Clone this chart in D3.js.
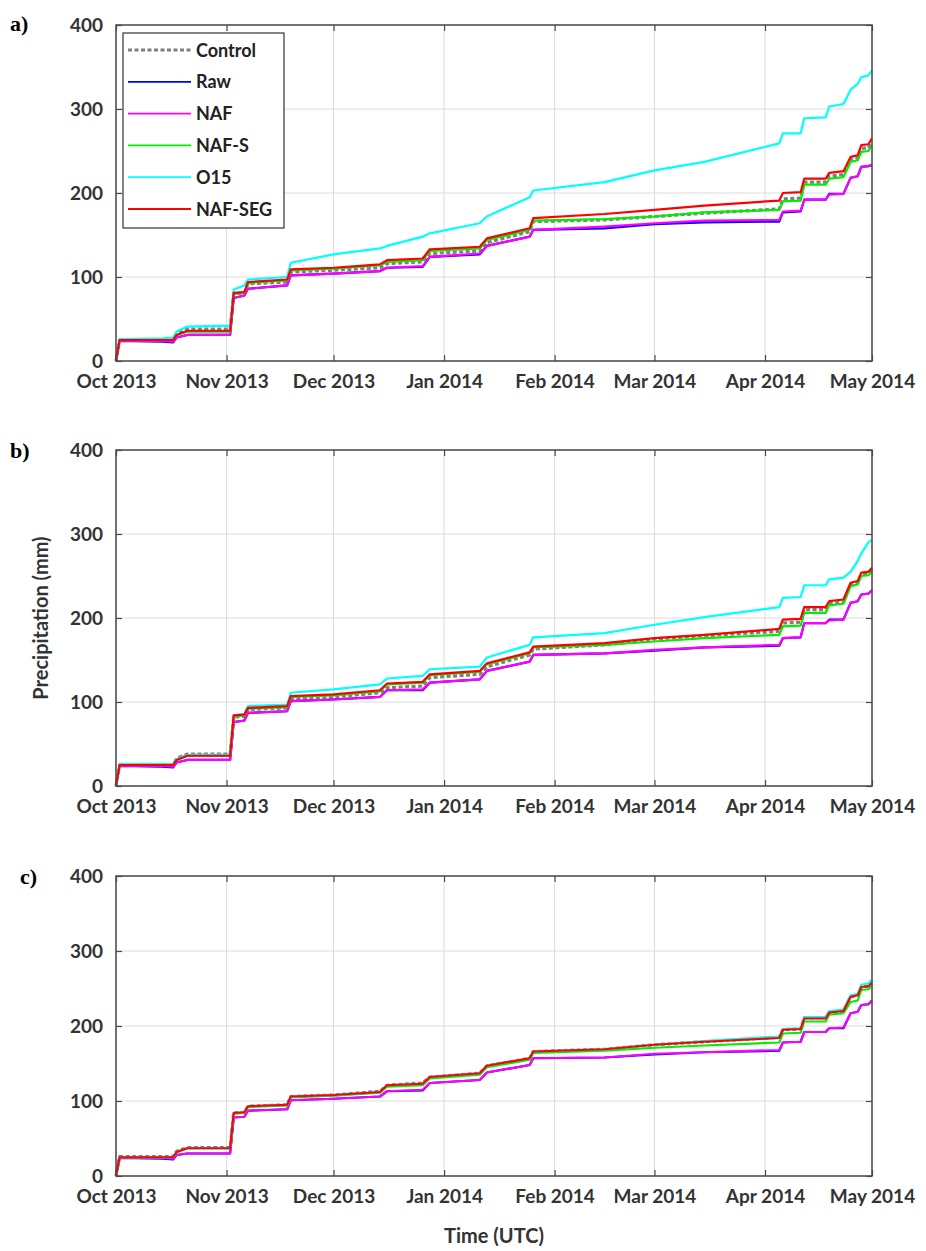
<!DOCTYPE html>
<html><head><meta charset="utf-8">
<script src="https://cdn.jsdelivr.net/npm/d3@7"></script>
<style>
html,body{margin:0;padding:0;background:#fff;}
</style></head>
<body><svg id="chart" width="926" height="1251"></svg>
<script>
// ---------- data ----------
const dates = ["2013-10-01","2013-10-02","2013-10-14","2013-10-17","2013-10-18","2013-10-21","2013-11-02","2013-11-03","2013-11-06","2013-11-07","2013-11-18","2013-11-19","2013-12-01","2013-12-14","2013-12-16","2013-12-26","2013-12-28","2014-01-11","2014-01-13","2014-01-25","2014-01-26","2014-02-15","2014-03-01","2014-03-15","2014-04-05","2014-04-06","2014-04-11","2014-04-12","2014-04-18","2014-04-19","2014-04-23","2014-04-25","2014-04-27","2014-04-28","2014-04-30","2014-05-01"];

const seriesNames = ["Control","Raw","NAF","NAF-S","O15","NAF-SEG"];
const seriesColors = ["#7f7f7f","#0000ff","#ff00ff","#00ee00","#00ffff","#ff0000"];
const xTickDates = ["2013-10-01","2013-11-01","2013-12-01","2014-01-01","2014-02-01","2014-03-01","2014-04-01","2014-05-01"];
const xTickLabels = ["Oct 2013","Nov 2013","Dec 2013","Jan 2014","Feb 2014","Mar 2014","Apr 2014","May 2014"];
const yTicks = [0,100,200,300,400];
const panelLabels = ["a)","b)","c)"];

// panel a
const aControl = [0,25,25,25,32,38,38,80,81,92,94,106,108,111,116,118,128,131,141,154,166,168,172,176,181,193,194,213,213,220,222,240,242,253,254,260];
const aRaw     = [0,24,23,22,28,31,31,75,78,86,90,102,104,107,111,112,124,127,137,148,156,158,163,165,166,177,178,192,192,199,199,218,220,231,232,233];
const aNAF     = [0,24,24,23,28,31,31,75,78,86,90,102,104,107,111,113,124,128,137,148,156,160,164,167,168,178,179,192,192,198,199,218,220,231,232,234];
const aNAFS    = [0,25,25,25,31,35,35,80,81,93,96,108,110,114,118,120,131,134,144,156,167,169,172,177,180,190,191,210,210,217,219,237,239,249,250,257];
const aO15     = [0,26,27,28,35,41,42,85,90,97,100,117,127,134,137,148,152,164,172,195,203,213,227,237,259,271,271,289,290,303,306,323,330,338,340,346];
const aNAFSEG  = [0,25,25,25,31,36,36,81,82,94,97,109,111,115,120,122,133,136,146,158,170,175,180,185,191,200,201,217,217,224,226,243,245,257,258,265];

// panel b
const bControl = [0,25,25,25,33,38,38,82,83,91,93,104,106,111,117,119,129,133,142,156,163,168,175,179,184,194,195,210,210,217,219,240,242,252,253,258];
const bRaw     = [0,24,23,22,28,31,31,76,78,87,89,101,103,106,114,114,123,127,137,148,156,158,161,165,167,176,177,194,194,198,198,218,220,228,229,233];
const bNAF     = [0,24,24,23,28,31,31,76,78,87,89,101,103,106,114,115,123,127,137,148,156,158,162,165,168,176,177,194,194,197,198,218,220,228,229,233];
const bNAFS    = [0,25,25,25,31,36,36,83,84,92,94,106,108,113,121,123,132,136,145,158,165,168,172,176,180,190,191,206,206,215,217,238,240,250,251,255];
const bO15     = [0,26,26,26,32,37,37,84,86,95,97,111,115,121,128,131,139,142,153,168,177,182,192,201,213,224,225,239,239,246,248,255,268,277,290,293];
const bNAFSEG  = [0,25,25,25,31,36,36,84,85,93,95,107,109,114,122,124,133,137,146,159,166,170,176,180,187,198,199,213,213,220,222,242,244,254,255,260];

// panel c
const cControl = [0,26,26,26,33,38,38,84,85,93,95,106,108,113,121,124,132,137,147,157,166,169,175,179,185,195,196,211,211,218,220,239,241,252,253,257];
const cRaw     = [0,24,23,22,28,30,30,78,79,87,89,101,103,106,113,114,124,128,138,148,157,158,162,165,167,178,179,192,192,197,197,217,219,228,229,234];
const cNAF     = [0,24,24,23,28,30,30,78,79,87,89,101,103,106,113,115,124,128,138,148,157,158,163,165,168,178,179,192,192,197,198,217,219,228,229,234];
const cNAFS    = [0,25,25,25,32,37,37,83,84,92,94,105,107,111,119,121,130,135,145,155,164,167,171,174,178,190,191,206,206,215,217,232,234,248,249,254];
const cO15     = [0,25,25,25,32,37,37,84,85,93,95,106,108,112,121,123,132,137,147,157,166,169,175,180,186,196,197,212,212,220,222,241,243,255,257,262];
const cNAFSEG  = [0,25,25,25,32,37,37,84,85,93,95,106,108,112,121,123,132,137,147,157,166,169,175,179,184,195,196,210,210,218,220,239,241,252,253,258];

const panelSeries = [
  [aControl,aRaw,aNAF,aNAFS,aO15,aNAFSEG],
  [bControl,bRaw,bNAF,bNAFS,bO15,bNAFSEG],
  [cControl,cRaw,cNAF,cNAFS,cO15,cNAFSEG]
];

// ---------- layout ----------
const parse = d3.timeParse("%Y-%m-%d");
const dateObjs = dates.map(parse);
const left = 116, right = 872;
const panels = [
  {top:25, bottom:361, lx:10, ly:31},
  {top:450, bottom:786, lx:10, ly:458},
  {top:876, bottom:1176, lx:20, ly:884}
];
const sans = "Lato, 'Open Sans', sans-serif";
const svg = d3.select("#chart");
const x = d3.scaleTime().domain([parse("2013-10-01"), parse("2014-05-01")]).range([left, right]);
const axisColor = "#4a4a4a";
const textColor = "#333333";

panels.forEach((p, pi) => {
  const y = d3.scaleLinear().domain([0,400]).range([p.bottom, p.top]);
  const g = svg.append("g");
  // grid
  g.append("g").selectAll("line").data(xTickDates.map(parse)).join("line")
    .attr("x1", d => x(d)).attr("x2", d => x(d)).attr("y1", p.top).attr("y2", p.bottom)
    .attr("stroke", "#dcdcdc").attr("stroke-width", 1);
  g.append("g").selectAll("line").data(yTicks).join("line")
    .attr("x1", left).attr("x2", right).attr("y1", d => y(d)).attr("y2", d => y(d))
    .attr("stroke", "#dcdcdc").attr("stroke-width", 1);

  // axes
  const xAxis = d3.axisBottom(x).tickValues(xTickDates.map(parse))
    .tickFormat((d,i) => xTickLabels[i]).tickSizeInner(-6).tickSizeOuter(0).tickPadding(14);
  const gx = g.append("g").attr("transform", `translate(0,${p.bottom})`).call(xAxis);
  const yAxis = d3.axisLeft(y).tickValues(yTicks).tickSizeInner(-6).tickSizeOuter(0).tickPadding(13);
  const gy = g.append("g").attr("transform", `translate(${left},0)`).call(yAxis);
  const gxTop = g.append("g").attr("transform", `translate(0,${p.top})`)
    .call(d3.axisTop(x).tickValues(xTickDates.map(parse)).tickFormat("").tickSizeInner(-6).tickSizeOuter(0));
  const gyRight = g.append("g").attr("transform", `translate(${right},0)`)
    .call(d3.axisRight(y).tickValues(yTicks).tickFormat("").tickSizeInner(-6).tickSizeOuter(0));
  [gx,gy,gxTop,gyRight].forEach(a => {
    a.select(".domain").remove();
    a.selectAll(".tick line").attr("stroke", axisColor).attr("stroke-width", 1.2);
    a.selectAll(".tick text").attr("fill", textColor).attr("font-size", 19)
      .attr("font-weight", "bold").attr("font-family", sans);
  });

  // lines
  const line = d3.line().x((d,i) => x(dateObjs[i])).y(d => y(d));
  panelSeries[pi].forEach((vals, si) => {
    g.append("path").datum(vals).attr("d", line)
      .attr("fill", "none").attr("stroke", seriesColors[si])
      .attr("stroke-width", si === 0 ? 3.2 : 2.2)
      .attr("stroke-dasharray", si === 0 ? "4,2.5" : null)
      .attr("stroke-linejoin", "round");
  });

  // box
  g.append("rect").attr("x", left).attr("y", p.top).attr("width", right-left).attr("height", p.bottom-p.top)
    .attr("fill", "none").attr("stroke", axisColor).attr("stroke-width", 1.5);

  // panel label
  svg.append("text").attr("x", p.lx).attr("y", p.ly).text(panelLabels[pi])
    .style("font-family", "'Liberation Serif', 'DejaVu Serif', serif").style("font-weight", "bold")
    .style("font-size", "22px").attr("fill", "#000");
});

// legend (panel a)
const leg = svg.append("g");
leg.append("rect").attr("x", 123).attr("y", 33).attr("width", 161).attr("height", 195)
  .attr("fill", "#fff").attr("stroke", "#333").attr("stroke-width", 1.2);
seriesNames.forEach((name, i) => {
  const cy = 50 + i * 31.8;
  leg.append("line").attr("x1", 128).attr("x2", 191).attr("y1", cy).attr("y2", cy)
    .attr("stroke", seriesColors[i]).attr("stroke-width", i === 0 ? 3.2 : 1.8)
    .attr("stroke-dasharray", i === 0 ? "4,2.5" : null);
  leg.append("text").attr("x", 196).attr("y", cy + 6.5).text(name)
    .attr("font-family", sans).attr("font-size", 18).attr("font-weight", "bold").attr("fill", "#222");
});

// axis titles
svg.append("text").attr("transform", "translate(48,618) rotate(-90)").attr("text-anchor", "middle")
  .text("Precipitation (mm)").attr("font-family", sans).attr("font-size", 20).attr("font-weight", "bold").attr("fill", textColor);
svg.append("text").attr("x", 494).attr("y", 1243).attr("text-anchor", "middle")
  .text("Time (UTC)").attr("font-family", sans).attr("font-size", 20).attr("font-weight", "bold").attr("fill", textColor);
</script></body></html>
